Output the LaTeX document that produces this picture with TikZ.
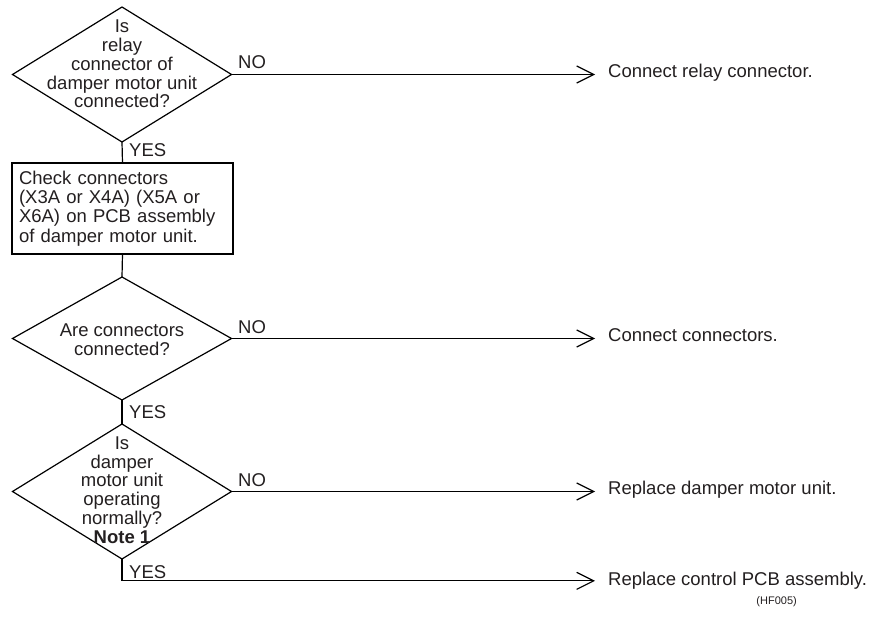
\documentclass[tikz,border=0pt]{standalone}
\usepackage{fontspec}
\setmainfont{Liberation Sans}
\usetikzlibrary{shapes.geometric,arrows.meta}
\definecolor{ink}{HTML}{231F20}
\tikzset{
  dia/.style={shape=diamond, draw=black, line width=1.2pt, inner sep=0pt, outer sep=0pt},
  dtext/.style={align=center, inner sep=0pt, text=ink, font=\fontsize{18.5}{18.8}\selectfont},
  boxnode/.style={draw=black, line width=1.2pt, minimum width=221pt, minimum height=91pt, outer sep=0pt,
    text width=207pt, align=left, inner sep=0pt, text=ink, font=\fontsize{18.5}{19.4}\selectfont},
  lbl/.style={inner sep=0pt, text=ink, font=\fontsize{18.5}{18.8}\selectfont},
  res/.style={inner sep=0pt, anchor=mid west, text=ink, font=\fontsize{18.5}{18.8}\selectfont},
  link/.style={draw=black, line width=1.2pt},
  arr/.style={link, -{Straight Barb[length=17pt,width=17pt,line width=1.2pt]}, shorten >=13pt}
}
\begin{document}
\begin{tikzpicture}[x=1pt,y=-1pt]
\useasboundingbox (0,0) rectangle (872,620);
% decisions
\node[dia, minimum width=219pt, minimum height=135pt] (d1) at (122,74.5) {};
\node[dtext] (d1t) at (122,64) {Is\\relay\\connector of\\damper motor unit\\connected?};
\node[boxnode] (b1) at (122.5,208.5) {Check connectors\\(X3A or X4A) (X5A or\\X6A) on PCB assembly\\of damper motor unit.};
\node[dia, minimum width=219pt, minimum height=123pt] (d2) at (122,338.5) {};
\node[dtext] (d2t) at (122,340) {Are connectors\\connected?};
\node[dia, minimum width=219pt, minimum height=135pt] (d3) at (122,491.5) {};
\node[dtext] (d3t) at (122,490) {Is\\damper\\motor unit\\operating\\normally?\\\textbf{Note 1}};
% results
\node[res] (r1) at (608,75) {Connect relay connector.};
\node[res] (r2) at (608,338.5) {Connect connectors.};
\node[res] (r3) at (608,491.5) {Replace damper motor unit.};
\node[res] (r4) at (608,583) {Replace control PCB assembly.};
\node[inner sep=0pt, anchor=east, text=ink, font=\fontsize{11}{12}\selectfont] (hf) at (797,602) {(HF005)};
% labels
\node[lbl, anchor=west] (y1) at (129,150) {YES};
\node[lbl, anchor=west] (y2) at (129,412) {YES};
\node[lbl, anchor=west] (y3) at (129,572) {YES};
\node[lbl, anchor=west] (n1) at (238,62) {NO};
\node[lbl, anchor=west] (n2) at (238,327) {NO};
\node[lbl, anchor=west] (n3) at (238,480) {NO};
% connectors
\draw[link] (d1.south) -- (b1.north);
\draw[link] (b1.south) -- (d2.north);
\draw[link] (d2.south) -- (d3.north);
\draw[arr] (d1.east) -- (d1.east -| r1.west);
\draw[arr] (d2.east) -- (d2.east -| r2.west);
\draw[arr] (d3.east) -- (d3.east -| r3.west);
\draw[arr] (d3.south) |- (r4.west);
\end{tikzpicture}
\end{document}
